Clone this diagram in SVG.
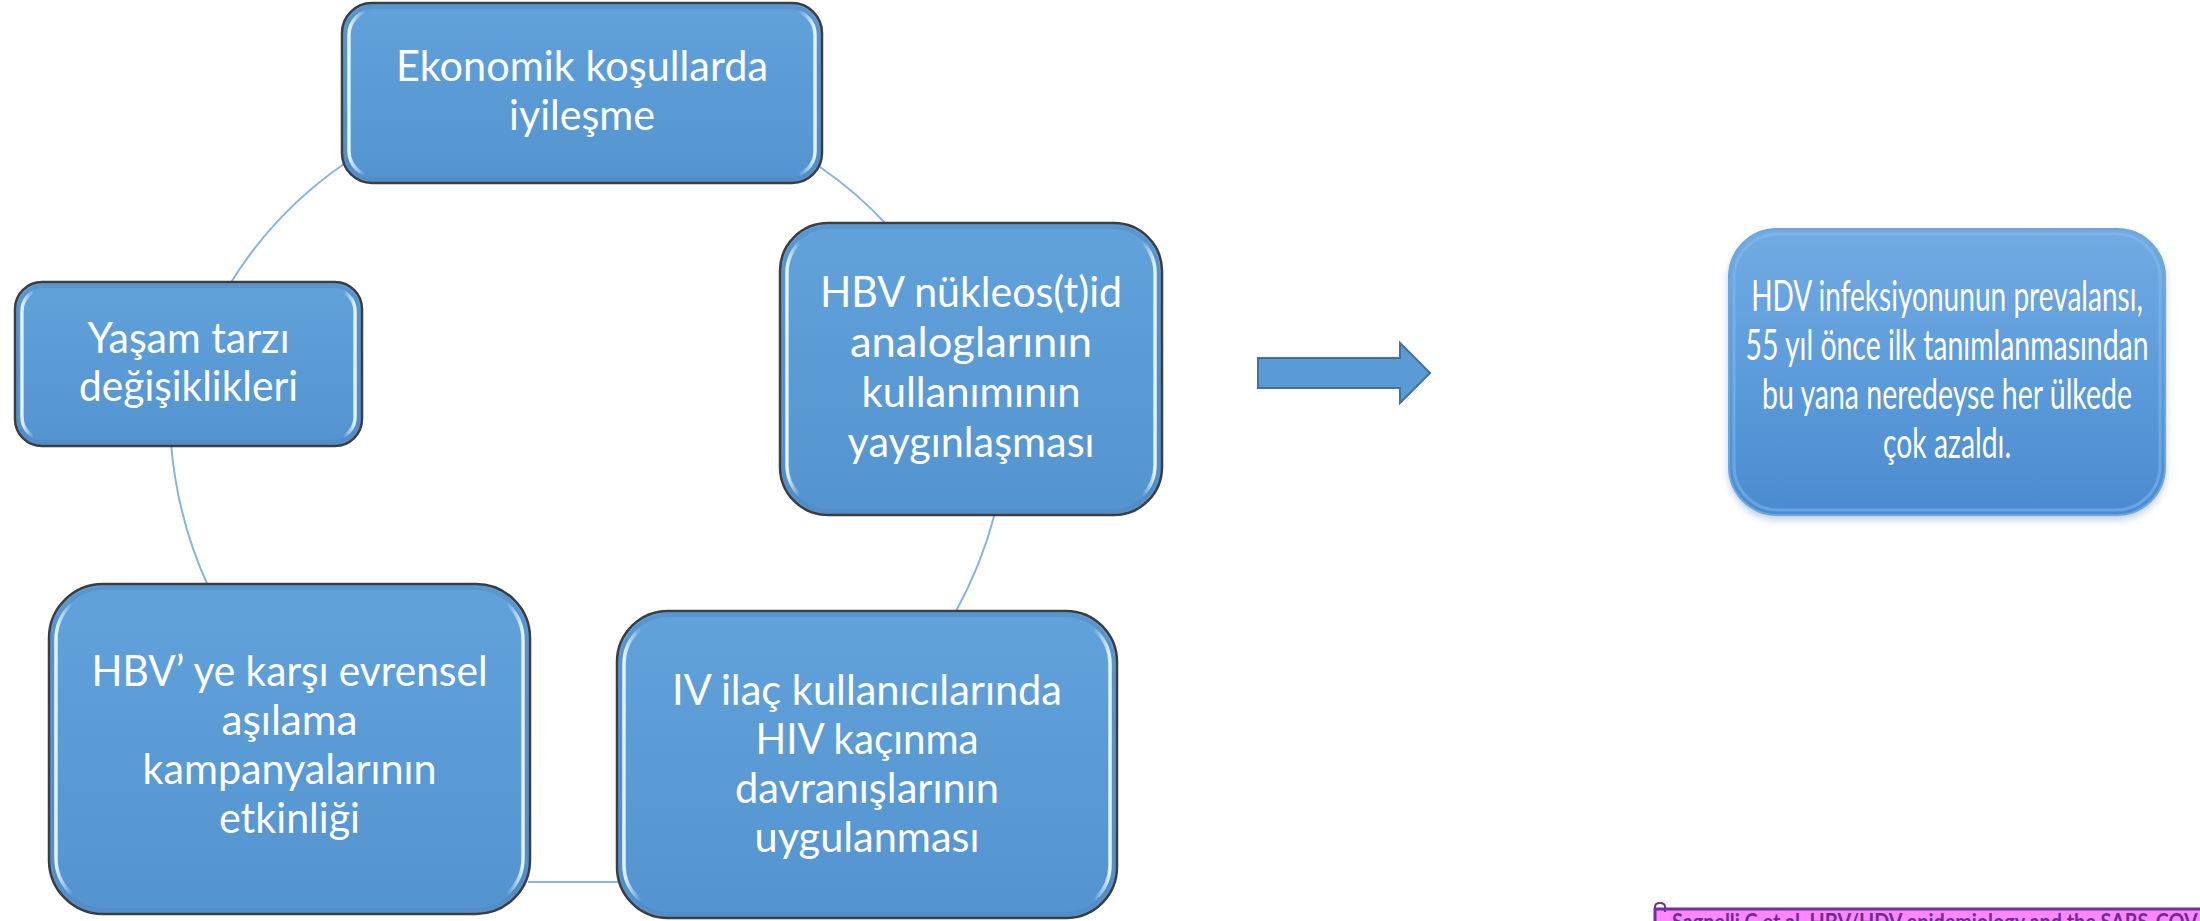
<svg xmlns="http://www.w3.org/2000/svg" width="2200" height="921" viewBox="0 0 2200 921">
<defs>
<linearGradient id="boxFill" x1="0" y1="0" x2="0" y2="1">
<stop offset="0" stop-color="#62A2DB"/>
<stop offset="0.5" stop-color="#5B9BD5"/>
<stop offset="1" stop-color="#5393CF"/>
</linearGradient>
<linearGradient id="hlFade" x1="0" y1="0" x2="1" y2="0">
<stop offset="0" stop-color="#E2F5FF" stop-opacity="1"/>
<stop offset="0.035" stop-color="#E2F5FF" stop-opacity="0"/>
<stop offset="0.965" stop-color="#E2F5FF" stop-opacity="0"/>
<stop offset="1" stop-color="#E2F5FF" stop-opacity="1"/>
</linearGradient>
<linearGradient id="hdvFill" x1="0" y1="0" x2="0" y2="1">
<stop offset="0" stop-color="#72ABE4"/>
<stop offset="0.5" stop-color="#5C9CDA"/>
<stop offset="1" stop-color="#4A8BD0"/>
</linearGradient>
<filter id="soft" x="-10%" y="-10%" width="120%" height="130%">
<feGaussianBlur stdDeviation="4"/>
</filter>
<style>
.box{fill:url(#boxFill);stroke:#3D3D3D;stroke-width:2.5}
.bevel{fill:none;stroke:#4E88C2;stroke-width:4;stroke-opacity:0.45}
.hl{fill:none;stroke:url(#hlFade);stroke-width:3.5}
.lbl{font-family:Lato,"Liberation Sans",sans-serif;font-size:42px;fill:#FFFFFF;text-anchor:middle}
.hdv{font-family:Lato,"Liberation Sans",sans-serif;font-size:43px;fill:#FFFFFF;text-anchor:middle}
.cyc{fill:none;stroke:#86B4E3;stroke-width:2}
.cite{font-family:Lato,"Liberation Sans",sans-serif;font-weight:700;font-size:23px;fill:#6E2C98}
</style>
</defs>
<rect width="2200" height="921" fill="#FFFFFF"/>

<g id="connectors">
<path class="cyc" d="M344,164 A400,400 0 0 0 230,284"/>
<path class="cyc" d="M171,444 A430,430 0 0 0 208,586"/>
<path class="cyc" d="M528,882 L619,882"/>
<path class="cyc" d="M955,613 A430,430 0 0 0 995,513"/>
<path class="cyc" d="M887,225 A400,400 0 0 0 820,167"/>
</g>

<g id="node-ekonomik">
<rect class="box" x="342" y="3" width="480" height="180" rx="30"/>
<rect class="bevel" x="346" y="7" width="472" height="172" rx="27"/>
<rect class="hl" x="349" y="10" width="466" height="166" rx="25"/>
<text class="lbl" x="582" y="81" textLength="372" lengthAdjust="spacingAndGlyphs">Ekonomik koşullarda</text>
<text class="lbl" x="582" y="130" textLength="146" lengthAdjust="spacingAndGlyphs">iyileşme</text>
</g>

<g id="node-yasam">
<rect class="box" x="15" y="282" width="347" height="164" rx="27"/>
<rect class="bevel" x="19" y="286" width="339" height="156" rx="24"/>
<rect class="hl" x="22" y="289" width="333" height="150" rx="22"/>
<text class="lbl" x="188.5" y="352.5" textLength="202" lengthAdjust="spacingAndGlyphs">Yaşam tarzı</text>
<text class="lbl" x="188.5" y="401" textLength="219" lengthAdjust="spacingAndGlyphs">değişiklikleri</text>
</g>

<g id="node-hbv-nukleos">
<rect class="box" x="780" y="223" width="382" height="292" rx="48"/>
<rect class="bevel" x="784" y="227" width="374" height="284" rx="45"/>
<rect class="hl" x="787" y="230" width="368" height="278" rx="43"/>
<text class="lbl" x="971" y="307" textLength="302" lengthAdjust="spacingAndGlyphs">HBV nükleos(t)id</text>
<text class="lbl" x="971" y="357" textLength="242" lengthAdjust="spacingAndGlyphs">analoglarının</text>
<text class="lbl" x="971" y="407" textLength="219" lengthAdjust="spacingAndGlyphs">kullanımının</text>
<text class="lbl" x="971" y="457" textLength="247" lengthAdjust="spacingAndGlyphs">yaygınlaşması</text>
</g>

<g id="node-iv">
<rect class="box" x="617" y="611" width="500" height="307" rx="51"/>
<rect class="bevel" x="621" y="615" width="492" height="299" rx="48"/>
<rect class="hl" x="624" y="618" width="486" height="293" rx="46"/>
<text class="lbl" x="867" y="705" textLength="390" lengthAdjust="spacingAndGlyphs">IV ilaç kullanıcılarında</text>
<text class="lbl" x="867" y="754" textLength="223" lengthAdjust="spacingAndGlyphs">HIV kaçınma</text>
<text class="lbl" x="867" y="803" textLength="264" lengthAdjust="spacingAndGlyphs">davranışlarının</text>
<text class="lbl" x="867" y="852" textLength="225" lengthAdjust="spacingAndGlyphs">uygulanması</text>
</g>

<g id="node-hbv-asilama">
<rect class="box" x="49" y="584" width="481" height="330" rx="54"/>
<rect class="bevel" x="53" y="588" width="473" height="322" rx="51"/>
<rect class="hl" x="56" y="591" width="467" height="316" rx="49"/>
<text class="lbl" x="289.5" y="686" textLength="396" lengthAdjust="spacingAndGlyphs">HBV’ ye karşı evrensel</text>
<text class="lbl" x="289.5" y="735" textLength="136" lengthAdjust="spacingAndGlyphs">aşılama</text>
<text class="lbl" x="289.5" y="784" textLength="294" lengthAdjust="spacingAndGlyphs">kampanyalarının</text>
<text class="lbl" x="289.5" y="833" textLength="141" lengthAdjust="spacingAndGlyphs">etkinliği</text>
</g>

<g id="arrow">
<polygon points="1258,358 1400,358 1400,343 1430,373 1400,403 1400,388 1258,388" fill="#5B9BD5" stroke="#41719C" stroke-width="2"/>
</g>

<g id="node-hdv">
<rect x="1729" y="233" width="436" height="286" rx="48" fill="#2F5F96" opacity="0.35" filter="url(#soft)"/>
<rect x="1729" y="229" width="436" height="286" rx="48" fill="url(#hdvFill)" stroke="#6EA5DC" stroke-width="2"/>
<rect x="1734" y="234" width="426" height="276" rx="44" fill="none" stroke="#8CC2F0" stroke-width="3" stroke-opacity="0.45"/>
<g transform="translate(1947 0) scale(0.72 1)">
<text class="hdv" x="0" y="311.5" textLength="544" lengthAdjust="spacingAndGlyphs">HDV infeksiyonunun prevalansı,</text>
<text class="hdv" x="0" y="360.5" textLength="560" lengthAdjust="spacingAndGlyphs">55 yıl önce ilk tanımlanmasından</text>
<text class="hdv" x="0" y="409.5" textLength="514" lengthAdjust="spacingAndGlyphs">bu yana neredeyse her ülkede</text>
<text class="hdv" x="0" y="458.5" textLength="178" lengthAdjust="spacingAndGlyphs">çok azaldı.</text>
</g>
</g>

<g id="citation">
<rect x="1655" y="909" width="560" height="30" fill="#FF88FF" stroke="#7030A0" stroke-width="3"/>
<path d="M1655,921 L1655,907 Q1655,903 1660,903 Q1665,903 1665,907 L1665,912" fill="none" stroke="#7030A0" stroke-width="2"/>
<g transform="translate(1672 0) scale(0.86 1)">
<text class="cite" x="0" y="930">Sagnelli C et al. HBV/HDV epidemiology and the SARS-COV-</text>
</g>
</g>
</svg>
